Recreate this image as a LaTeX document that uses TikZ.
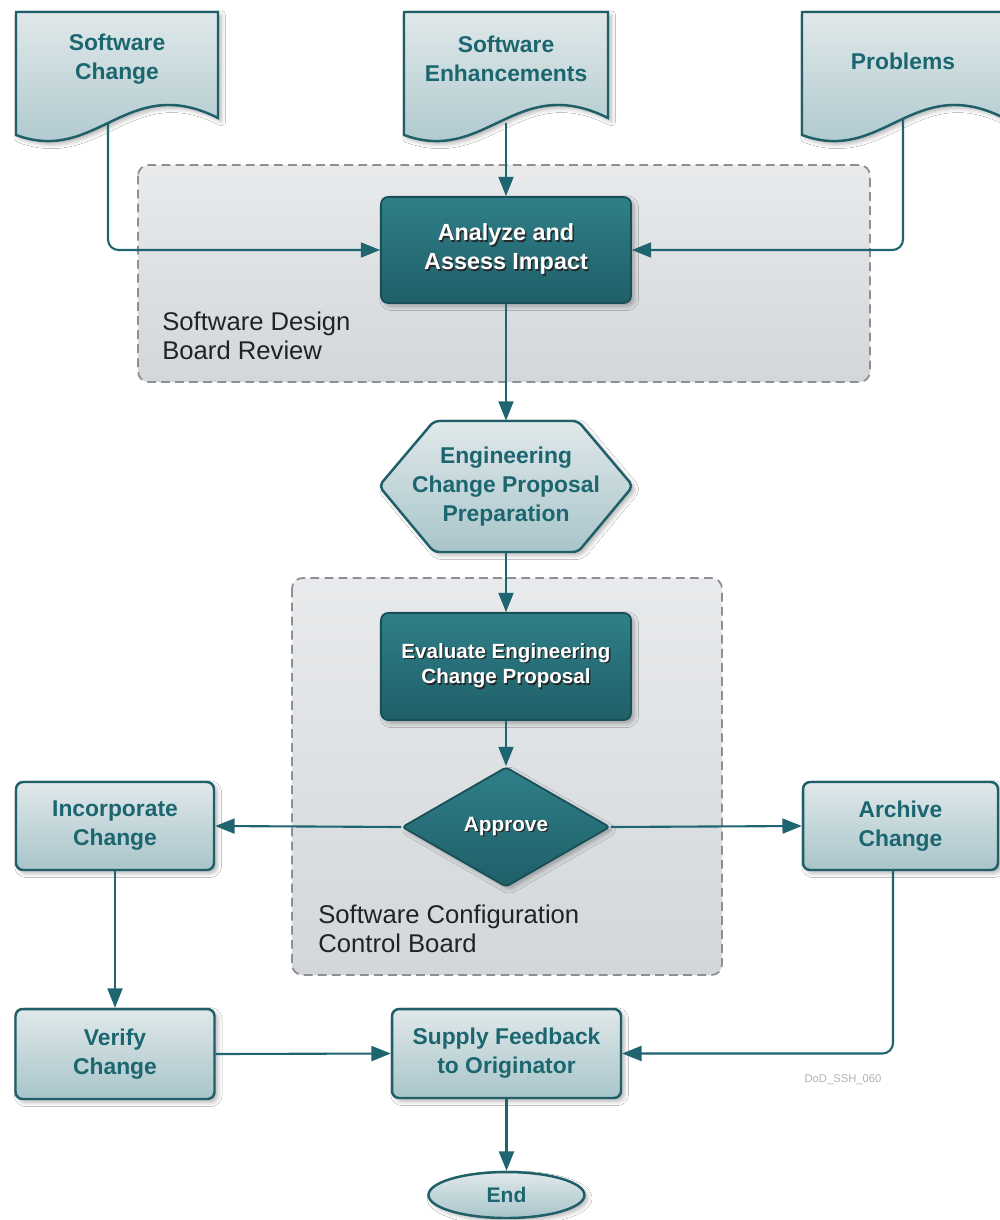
\documentclass[tikz,border=0pt]{standalone}
\usepackage{fontspec}
\setmainfont{Liberation Sans}
\usetikzlibrary{arrows.meta,shapes.geometric,shadows.blur}
\definecolor{tline}{HTML}{1E6570}
\definecolor{ttext}{HTML}{1C6670}
\definecolor{ltop}{HTML}{E0E8EA}
\definecolor{lbot}{HTML}{A8C5CA}
\definecolor{lborder}{HTML}{1E5F68}
\definecolor{dtop}{HTML}{2F7F88}
\definecolor{dbot}{HTML}{1F5F68}
\definecolor{dborder}{HTML}{184F57}
\definecolor{rtop}{HTML}{E8EAEC}
\definecolor{rbot}{HTML}{D3D7DA}
\definecolor{rborder}{HTML}{8C9094}
\definecolor{rtext}{HTML}{222222}
\newcommand\shtxt[1]{\leavevmode\rlap{\raisebox{-0.8pt}{\hspace{0.8pt}\textcolor{black!85}{#1}}}#1}
\begin{document}
\begin{tikzpicture}[x=0.02cm,y=-0.02cm,
  shad/.style={blur shadow={shadow xshift=1.8pt,shadow yshift=-1.8pt,shadow blur radius=2.5pt,shadow opacity=30}},
  lightbox/.style={rectangle,rounded corners=4pt,draw=lborder,line width=1.4pt,top color=ltop,bottom color=lbot,
    text=ttext,font=\bfseries\fontsize{13}{16.5}\selectfont,align=center,inner sep=0pt,shad},
  darkbox/.style={rectangle,rounded corners=4pt,draw=dborder,line width=1pt,top color=dtop,bottom color=dbot,
    text=white,align=center,inner sep=0pt,shad},
  docshape/.style={draw=lborder,line width=1.4pt,top color=ltop,bottom color=lbot,shad},
  doctext/.style={text=ttext,font=\bfseries\fontsize{13}{16.5}\selectfont,align=center,inner sep=0pt},
  region/.style={draw=rborder,line width=1pt,dash pattern=on 5pt off 3pt,rounded corners=6pt,top color=rtop,bottom color=rbot},
  regiontext/.style={text=rtext,font=\fontsize{14.6}{16.4}\selectfont,align=left,inner sep=0pt,anchor=north west},
  arr/.style={draw=tline,line width=1.2pt,-{Triangle[length=11pt,width=8.5pt]}},
  conn/.style={draw=tline,line width=1.2pt,rounded corners=6pt,-{Triangle[length=11pt,width=8.5pt]}}
]
\clip (0,0) rectangle (1000,1220);
\fill[white] (0,0) rectangle (1000,1220);

% regions
\draw[region] (138,165) rectangle (870,382);
\draw[region] (292,578) rectangle (722,975);
\node[regiontext] (r1label) at (162,312) {Software Design\\Board Review};
\node[regiontext] (r2label) at (318,905) {Software Configuration\\Control Board};

% documents
\draw[docshape] (16,12) -- (218,12) -- (218,118) .. controls (127,72) and (97,165) .. (16,135) -- cycle;
\draw[docshape] (404,12) -- (608,12) -- (608,118) .. controls (516,72) and (486,165) .. (404,135) -- cycle;
\draw[docshape] (802,12) -- (1004,12) -- (1004,118) .. controls (913,72) and (883,165) .. (802,135) -- cycle;
\node[doctext] (sc) at (117,59) {Software\\Change};
\node[doctext] (se) at (506,59) {Software\\Enhancements};
\node[doctext] (pr) at (903,61) {Problems};
\coordinate (scout) at (108,124);
\coordinate (seout) at (506,123);
\coordinate (prout) at (903,118);

% process boxes
\node[darkbox,minimum width=5cm,minimum height=2.12cm,font=\bfseries\fontsize{13.3}{16.6}\selectfont] (analyze) at (506,250) {\shtxt{Analyze and}\\\shtxt{Assess Impact}};

\draw[docshape,rounded corners=3pt] (379,486) -- (434,421) -- (578,421) -- (633,486) -- (578,552) -- (434,552) -- cycle;
\node[doctext,minimum width=5.08cm,minimum height=2.62cm] (ecp) at (506,486.5) {Engineering\\Change Proposal\\Preparation};

\node[darkbox,minimum width=5cm,minimum height=2.14cm,font=\bfseries\fontsize{11.7}{14.6}\selectfont] (eval) at (506,666.5) {\shtxt{Evaluate Engineering}\\\shtxt{Change Proposal}};

\node[darkbox,diamond,rounded corners=2pt,minimum width=4.16cm,minimum height=2.4cm,font=\bfseries\fontsize{11.8}{14}\selectfont] (approve) at (506,827) {\shtxt{Approve}};

\node[lightbox,minimum width=3.96cm,minimum height=1.76cm] (incorp) at (115,826) {Incorporate\\Change};
\node[lightbox,minimum width=3.9cm,minimum height=1.76cm] (archive) at (900.5,826) {Archive\\Change};
\node[lightbox,minimum width=3.98cm,minimum height=1.8cm] (verify) at (115,1054) {Verify\\Change};
\node[lightbox,minimum width=4.58cm,minimum height=1.78cm] (supply) at (506.5,1053.5) {Supply Feedback\\to Originator};
\node[lightbox,ellipse,rounded corners=0pt,minimum width=3.12cm,minimum height=0.92cm,font=\bfseries\fontsize{12}{14}\selectfont] (end) at (506.5,1195) {End};
\coordinate (arcout) at (893,870);

\node[text=black!30,font=\fontsize{6.4}{8}\selectfont,inner sep=0pt] (code) at (843,1080) {DoD\_SSH\_060};

% connectors
\draw[conn] (scout) |- (analyze.west);
\draw[arr] (seout) -- (analyze.north);
\draw[conn] (prout) |- (analyze.east);
\draw[arr] (analyze.south) -- (ecp.north);
\draw[arr] (ecp.south) -- (eval.north);
\draw[arr] (eval.south) -- (approve.north);
\draw[arr] (approve.west) -- (incorp.east);
\draw[arr] (approve.east) -- (archive.west);
\draw[arr] (incorp.south) -- (verify.north);
\draw[arr] (verify.east) -- (supply.west);
\draw[conn] (arcout) |- (supply.east);
\draw[arr] (supply.south) -- (end.north);
\end{tikzpicture}
\end{document}
